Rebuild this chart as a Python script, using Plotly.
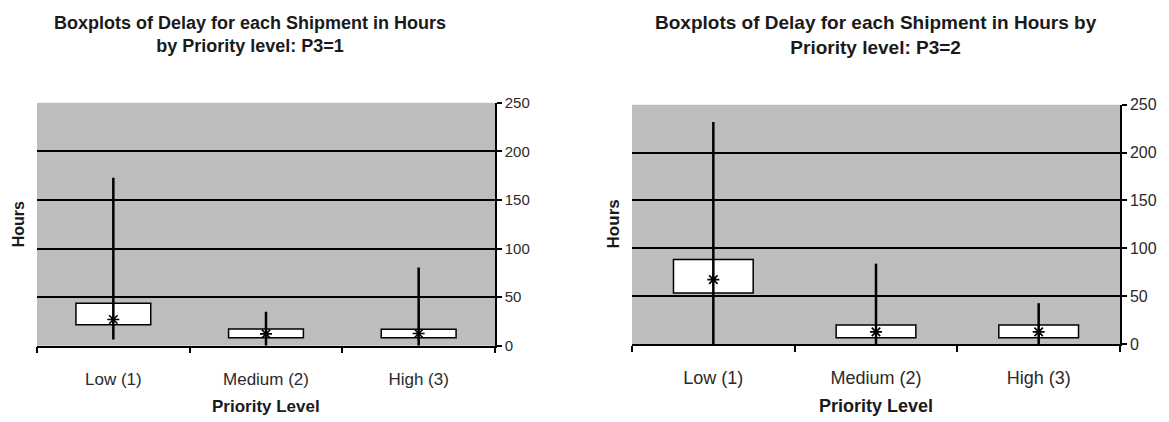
import plotly.graph_objects as go

# Priority categories shared by both panels
categories = ["Low (1)", "Medium (2)", "High (3)"]

# Panel 1: P3=1 (hours)
p1_low = [6.5, 0, 0]          # whisker bottom
p1_q1 = [21.5, 8.2, 8.3]      # box bottom
p1_q3 = [43.7, 17.1, 17.0]    # box top
p1_high = [173, 35, 80.5]     # whisker top
p1_center = [27, 12.2, 12.5]  # centre marker

# Panel 2: P3=2 (hours)
p2_low = [0, 0, 0]
p2_q1 = [53.3, 6.7, 6.7]
p2_q3 = [88.3, 20.0, 20.0]
p2_high = [232, 84, 42.7]
p2_center = [67.3, 12.7, 12.7]

panel_titles = [
    "Boxplots of Delay for each Shipment in Hours<br>by Priority level: P3=1",
    "Boxplots of Delay for each Shipment in Hours by<br>Priority level: P3=2",
]
y_ticks = [0, 50, 100, 150, 200, 250]

FONT = "Liberation Sans, Arial, sans-serif"
W, H = 1169, 422

fig = go.Figure()


def add_panel(fig, idx, low, q1, q3, high, center):
    xa = "x" if idx == 1 else f"x{idx}"
    ya = "y" if idx == 1 else f"y{idx}"
    # whiskers: one vertical segment per category
    wx, wy = [], []
    for c, lo, hi in zip(categories, low, high):
        wx += [c, c, None]
        wy += [lo, hi, None]
    fig.add_trace(go.Scatter(x=wx, y=wy, mode="lines", xaxis=xa, yaxis=ya,
                             line=dict(color="black", width=2.5),
                             showlegend=False, hoverinfo="skip"))
    # interquartile boxes
    fig.add_trace(go.Bar(x=categories, y=[b - a for a, b in zip(q1, q3)], base=q1,
                         width=0.49, xaxis=xa, yaxis=ya,
                         marker=dict(color="white", line=dict(color="black", width=1.5)),
                         showlegend=False))
    # centre markers
    fig.add_trace(go.Scatter(x=categories, y=center, mode="markers", xaxis=xa, yaxis=ya,
                             marker=dict(symbol="asterisk-open", size=10, color="black",
                                         line=dict(color="black", width=1.6)),
                             showlegend=False))


add_panel(fig, 1, p1_low, p1_q1, p1_q3, p1_high, p1_center)
add_panel(fig, 2, p2_low, p2_q1, p2_q3, p2_high, p2_center)

# plot-area boxes in pixels: (left, right, top, bottom)
boxes = [(37, 495, 98, 351.7), (632, 1120, 100, 350)]
# (y tick size, x label size, title size, title x shift)
fsize = [(15, 17, 18, -16), (16, 18, 19, 0)]

for i, ((l, r, t, b), (tick_fs, lab_fs, title_fs, tshift)) in enumerate(zip(boxes, fsize), start=1):
    sfx = "" if i == 1 else str(i)
    anchor = "y" if i == 1 else f"y{i}"
    xanchor = "x" if i == 1 else f"x{i}"
    fig.layout[f"xaxis{sfx}"] = dict(
        domain=[l / W, r / W], anchor=anchor, type="category",
        categoryorder="array", categoryarray=categories,
        tickson="boundaries", ticks="outside", ticklen=6, tickwidth=1.5, tickcolor="black",
        showline=True, linecolor="black", linewidth=1.5, showgrid=False,
        ticklabelstandoff=17,
        tickfont=dict(family=FONT, size=lab_fs, color="#2a2a2a"),
        range=[-0.5, 2.5], fixedrange=True,
    )
    fig.layout[f"yaxis{sfx}"] = dict(
        domain=[1 - b / H, 1 - t / H], anchor=xanchor, side="right",
        range=[0, 250], tickvals=y_ticks, ticks="outside", ticklen=5, tickwidth=1.5,
        tickcolor="black", showline=True, linecolor="black", linewidth=1.5,
        showgrid=True, gridcolor="black", gridwidth=1.6, zeroline=False,
        tickfont=dict(family=FONT, size=tick_fs, color="#2a2a2a"),
        fixedrange=True,
    )
    cx = (l + r) / 2
    fig.add_annotation(text=f"<b>{panel_titles[i - 1]}</b>", x=(cx + tshift) / W, y=1 - 27 / H,
                       xref="paper", yref="paper", showarrow=False,
                       font=dict(family=FONT, size=title_fs, color="#1a1a1a"),
                       xanchor="center", yanchor="middle")
    fig.add_annotation(text="<b>Priority Level</b>", x=cx / W, y=1 - 415 / H,
                       xref="paper", yref="paper", showarrow=False,
                       font=dict(family=FONT, size=lab_fs, color="#1a1a1a"),
                       xanchor="center", yanchor="middle")
    fig.add_annotation(text="<b>Hours</b>", x=(l - 19) / W, y=1 - ((t + b) / 2) / H,
                       xref="paper", yref="paper", showarrow=False, textangle=-90,
                       font=dict(family=FONT, size=lab_fs - 1, color="#1a1a1a"),
                       xanchor="center", yanchor="middle")

fig.update_layout(
    width=W, height=H, margin=dict(l=0, r=0, t=0, b=0),
    paper_bgcolor="white", plot_bgcolor="#bdbdbd",
    barmode="overlay", showlegend=False,
)

fig.write_html("out.html")
